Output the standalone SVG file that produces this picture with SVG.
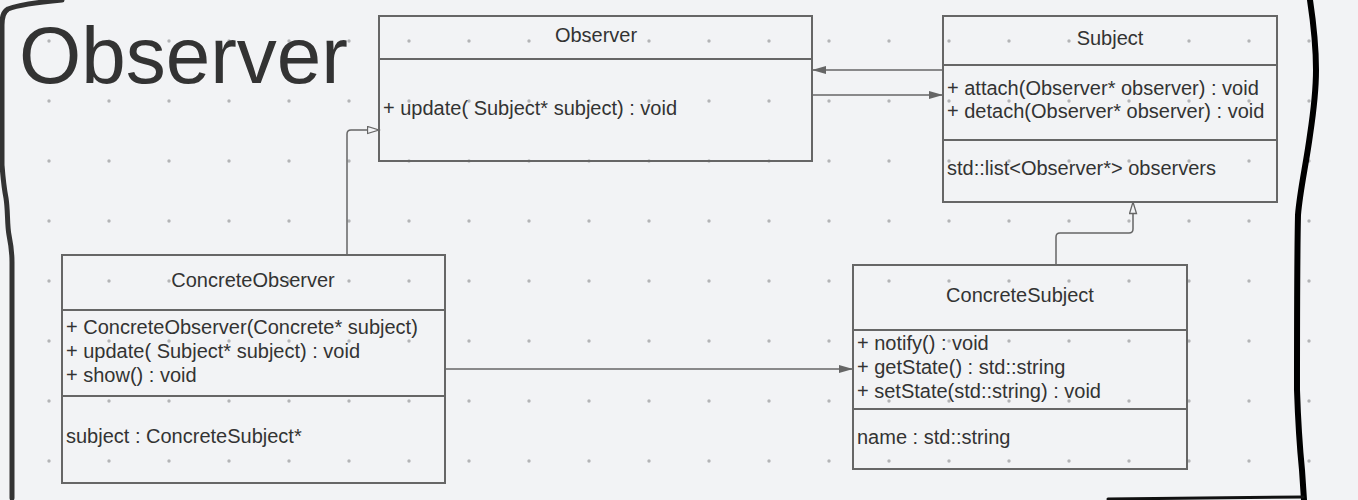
<svg xmlns="http://www.w3.org/2000/svg" width="1358" height="500" viewBox="0 0 1358 500">
<style>
.t{font-family:"Liberation Sans",Arial,sans-serif;font-size:20px;fill:#333}
.c{text-anchor:middle}
.box{fill:none;stroke:#666;stroke-width:2}
.div{stroke:#666;stroke-width:2}
.conn{fill:none;stroke:#666;stroke-width:1.5}
</style>
<defs>
<pattern id="grid" patternUnits="userSpaceOnUse" x="0" y="0" width="60" height="60">
<circle cx="49" cy="41" r="1.7" fill="#b3b4b6"/>
</pattern>
<marker id="filled" markerUnits="userSpaceOnUse" markerWidth="15" markerHeight="10" refX="14" refY="4.5" orient="auto">
<path d="M0,0.5 L14,4.5 L0,8.5 z" fill="#666"/>
</marker>
<marker id="hollow" markerUnits="userSpaceOnUse" markerWidth="14" markerHeight="10" refX="12.5" refY="4.5" orient="auto">
<path d="M1,1 L12.5,4.5 L1,8 z" fill="#f2f3f5" stroke="#666" stroke-width="1.3"/>
</marker>
</defs>
<rect width="1358" height="500" fill="#f2f3f5"/>
<rect width="1358" height="500" fill="url(#grid)"/>
<g id="frame" fill="none" stroke-linecap="round" stroke-linejoin="round">
<path d="M62,0 C40,2 20,4 8,9 C3,12 2,17 2,25 L2,165 C3,178 4,188 6,198 C8,210 7,225 9,235 C11,245 12,250 12,262 L12,498" stroke="#333" stroke-width="5"/>
<path d="M1310,0 C1313,20 1316,40 1316,70 C1316,95 1313,115 1310,135 C1306,165 1300,190 1298,215 C1297,260 1297,340 1297,390 C1298,420 1300,450 1302,470 L1304,500" stroke="#000" stroke-width="6"/>
<path d="M1108,499 L1303,497" stroke="#111" stroke-width="3"/>
</g>
<text class="t" x="19" y="83" style="font-size:80px">Observer</text>
<g id="connectors">
<path class="conn" d="M943,70 L812,70" marker-end="url(#filled)"/>
<path class="conn" d="M812,95 L943,95" marker-end="url(#filled)"/>
<path class="conn" d="M347,255 L347,134 Q347,130 351,130 L379,130" marker-end="url(#hollow)"/>
<path class="conn" d="M1056,265 L1056,237 Q1056,233 1060,233 L1129,233 Q1133,233 1133,229 L1133,202" marker-end="url(#hollow)"/>
<path class="conn" d="M445,369 L853,369" marker-end="url(#filled)"/>
</g>
<g id="observer">
<rect class="box" x="379" y="16" width="433" height="145"/>
<line class="div" x1="379" y1="59" x2="812" y2="59"/>
<text class="t c" x="596" y="42">Observer</text>
<text class="t" x="383" y="115">+ update( Subject* subject) : void</text>
</g>
<g id="subject">
<rect class="box" x="943" y="16" width="334" height="186"/>
<line class="div" x1="943" y1="65" x2="1277" y2="65"/>
<line class="div" x1="943" y1="140" x2="1277" y2="140"/>
<text class="t c" x="1110" y="45">Subject</text>
<text class="t" x="947" y="95">+ attach(Observer* observer) : void</text>
<text class="t" x="947" y="118">+ detach(Observer* observer) : void</text>
<text class="t" x="947" y="175">std::list&lt;Observer*&gt; observers</text>
</g>
<g id="concrete-observer">
<rect class="box" x="62" y="255" width="383" height="228"/>
<line class="div" x1="62" y1="310" x2="445" y2="310"/>
<line class="div" x1="62" y1="396" x2="445" y2="396"/>
<text class="t c" x="253" y="287">ConcreteObserver</text>
<text class="t" x="66" y="334">+ ConcreteObserver(Concrete* subject)</text>
<text class="t" x="66" y="358">+ update( Subject* subject) : void</text>
<text class="t" x="66" y="382">+ show() : void</text>
<text class="t" x="66" y="443">subject : ConcreteSubject*</text>
</g>
<g id="concrete-subject">
<rect class="box" x="853" y="265" width="334" height="204"/>
<line class="div" x1="853" y1="330" x2="1187" y2="330"/>
<line class="div" x1="853" y1="409" x2="1187" y2="409"/>
<text class="t c" x="1020" y="302">ConcreteSubject</text>
<text class="t" x="857" y="350">+ notify() : void</text>
<text class="t" x="857" y="374">+ getState() : std::string</text>
<text class="t" x="857" y="398">+ setState(std::string) : void</text>
<text class="t" x="857" y="444">name : std::string</text>
</g>
</svg>
